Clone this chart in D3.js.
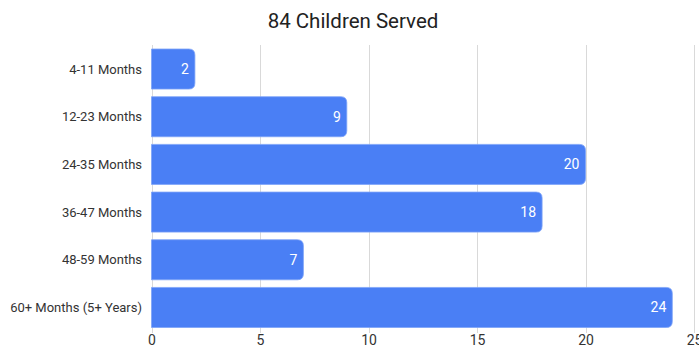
<!DOCTYPE html>
<html><head><meta charset="utf-8">
<script src="https://cdn.jsdelivr.net/npm/d3@7"></script>
<style>
html,body{margin:0;padding:0;background:#fff;}
svg{display:block;}
</style></head>
<body>
<script>
const categories = ["4-11 Months","12-23 Months","24-35 Months","36-47 Months","48-59 Months","60+ Months (5+ Years)"];
const values = [2, 9, 20, 18, 7, 24];
const tickValues = [0, 5, 10, 15, 20, 25];
const title = "84 Children Served";

const W = 699, H = 347;
const font = "Roboto, 'Noto Sans', sans-serif";
const svg = d3.select("body").append("svg").attr("width", W).attr("height", H);

const x = d3.scaleLinear().domain([0, 25]).range([151.5, 694]);
const y = d3.scaleBand().domain(categories).range([45.2, 331.3]).paddingInner(0.16).paddingOuter(0.08);

// gridlines
svg.append("g").selectAll("line").data(tickValues).join("line")
  .attr("x1", d => Math.round(x(d)) + 0.5).attr("x2", d => Math.round(x(d)) + 0.5)
  .attr("y1", 45).attr("y2", 333)
  .attr("stroke", "#d9d9d9").attr("stroke-width", 1);

// bars with rounded right corners
const r = 6;
function barPath(x0, y0, x1, h) {
  const rr = Math.min(r, (x1 - x0) / 2, h / 2);
  return `M${x0},${y0}H${x1 - rr}Q${x1},${y0} ${x1},${y0 + rr}V${y0 + h - rr}Q${x1},${y0 + h} ${x1 - rr},${y0 + h}H${x0}Z`;
}
svg.append("g").selectAll("path").data(values).join("path")
  .attr("d", (d, i) => barPath(x(0), y(categories[i]), x(d), y.bandwidth()))
  .attr("fill", "#4a7ff5")
  .attr("stroke", "#7ea3f7").attr("stroke-width", 0.8);

// value labels
svg.append("g").selectAll("text").data(values).join("text")
  .attr("x", d => x(d) - 6)
  .attr("y", (d, i) => y(categories[i]) + y.bandwidth() / 2)
  .attr("dy", "0.36em")
  .attr("text-anchor", "end")
  .attr("fill", "#ffffff")
  .style("font-family", font).style("font-size", "14px")
  .text(d => d);

// category labels
svg.append("g").selectAll("text").data(categories).join("text")
  .attr("x", 142)
  .attr("y", d => y(d) + y.bandwidth() / 2)
  .attr("dy", "0.36em")
  .attr("text-anchor", "end")
  .attr("fill", "#333")
  .style("font-family", font).style("font-size", "13px")
  .text(d => d);

// x axis tick labels
const xAxis = d3.axisBottom(x).tickValues(tickValues).tickSize(0).tickPadding(0);
const ax = svg.append("g").attr("transform", "translate(0,334)").call(xAxis);
ax.select(".domain").remove();
ax.selectAll("text").attr("dy", "0.71em").attr("y", 1)
  .attr("fill", "#333").style("font-family", font).style("font-size", "14px");

// title
svg.append("text").attr("x", 353).attr("y", 28).attr("text-anchor", "middle")
  .attr("fill", "#222").style("font-family", font).style("font-size", "20.5px")
  .text(title);
</script>
</body></html>
